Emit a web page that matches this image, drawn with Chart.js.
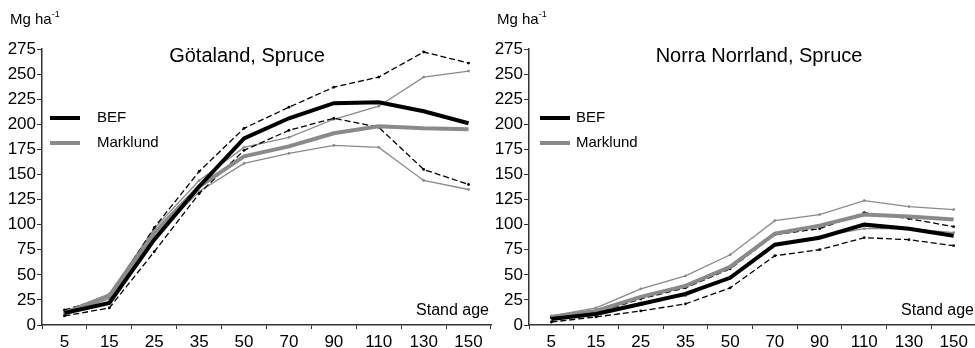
<!DOCTYPE html>
<html>
<head>
<meta charset="utf-8">
<script src="https://cdn.jsdelivr.net/npm/chart.js@4"></script>
<style>
  html, body { margin: 0; padding: 0; background: #fff; overflow: hidden; }
  #wrap { position: relative; width: 975px; height: 348px; }
  canvas { position: absolute; top: 0; }
  #leftChart { left: 0; }
  #rightChart { left: 490px; }
</style>
</head>
<body>
<div id="wrap">
  <canvas id="leftChart" width="495" height="348"></canvas>
  <canvas id="rightChart" width="490" height="348"></canvas>
</div>
<script>
// stand age classes (x axis)
const standAges = ['5', '15', '25', '35', '50', '70', '90', '110', '130', '150'];

// Götaland, Spruce (Mg ha-1)
const gotBef = [12, 22, 85, 138, 186, 206, 221, 222, 213, 201];
const gotMarklund = [12, 29, 92, 138, 168, 178, 191, 198, 196, 195];
const gotBefHigh = [15, 28, 97, 153, 196, 217, 237, 247, 272, 261];
const gotBefLow = [9, 17, 73, 131, 174, 194, 206, 197, 155, 140];
const gotMarklundHigh = [13, 31, 96, 144, 177, 187, 205, 218, 247, 253];
const gotMarklundLow = [11, 26, 88, 133, 161, 171, 179, 177, 144, 135];

// Norra Norrland, Spruce (Mg ha-1)
const nnBef = [6, 11, 21, 31, 47, 80, 87, 100, 96, 89];
const nnMarklund = [8, 14, 28, 39, 58, 91, 99, 110, 108, 105];
const nnBefHigh = [7, 12, 26, 37, 56, 90, 96, 112, 106, 98];
const nnBefLow = [3, 8, 14, 21, 37, 69, 75, 87, 85, 79];
const nnMarklundHigh = [9, 17, 36, 49, 70, 104, 110, 124, 118, 115];
const nnMarklundLow = [7, 12, 22, 29, 48, 80, 88, 96, 96, 92];

const yTicks = { min: 0, max: 275, step: 25 };

const AXIS = '#333';
const GREY = '#8a8a8a';
const FONT = '"Liberation Sans", Arial, sans-serif';

// draws the unit, title, legend and "Stand age" text
const textPlugin = {
  id: 'panelText',
  afterDraw(chart, args, opts) {
    const ctx = chart.ctx;
    ctx.save();
    ctx.fillStyle = '#000';
    ctx.textBaseline = 'middle';

    // unit label
    ctx.font = '15px ' + FONT;
    ctx.textAlign = 'left';
    ctx.fillText('Mg ha', opts.unitX, 20);
    const w = ctx.measureText('Mg ha').width;
    ctx.font = '9px ' + FONT;
    ctx.fillText('-1', opts.unitX + w, 15);

    // title
    ctx.font = '20px ' + FONT;
    ctx.textAlign = 'center';
    ctx.fillText(opts.title, opts.titleX, 56);

    // legend
    const items = [['BEF', '#000', 118], ['Marklund', GREY, 143]];
    items.forEach(([label, color, y]) => {
      ctx.strokeStyle = color;
      ctx.lineWidth = 4;
      ctx.beginPath();
      ctx.moveTo(50, y);
      ctx.lineTo(80, y);
      ctx.stroke();
      ctx.font = '15px ' + FONT;
      ctx.textAlign = 'left';
      ctx.fillText(label, opts.legendTextX, y);
    });

    // axis caption
    ctx.font = '16px ' + FONT;
    ctx.textAlign = 'right';
    ctx.fillText('Stand age', opts.ageX, 311);
    ctx.restore();
  }
};

function buildDatasets(bef, marklund, befHigh, befLow, mHigh, mLow) {
  // first dataset is drawn on top
  return [
    { label: 'BEF', data: bef, borderColor: '#000', borderWidth: 4, pointRadius: 0 },
    { label: 'Marklund', data: marklund, borderColor: GREY, borderWidth: 4, pointRadius: 0 },
    { label: 'BEF high', data: befHigh, borderColor: '#000', borderWidth: 1.3, borderDash: [6, 3],
      pointRadius: 1.4, pointBackgroundColor: '#000', pointBorderWidth: 0 },
    { label: 'BEF low', data: befLow, borderColor: '#000', borderWidth: 1.3, borderDash: [6, 3],
      pointRadius: 1.4, pointBackgroundColor: '#000', pointBorderWidth: 0 },
    { label: 'Marklund high', data: mHigh, borderColor: GREY, borderWidth: 1.3,
      pointRadius: 1.4, pointBackgroundColor: GREY, pointBorderWidth: 0 },
    { label: 'Marklund low', data: mLow, borderColor: GREY, borderWidth: 1.3,
      pointRadius: 1.4, pointBackgroundColor: GREY, pointBorderWidth: 0 }
  ];
}

function makeChart(id, datasets, axisWidth, padRight, text) {
  const ctx = document.getElementById(id).getContext('2d');
  return new Chart(ctx, {
    type: 'line',
    data: { labels: standAges, datasets: datasets },
    plugins: [textPlugin],
    options: {
      responsive: false,
      animation: false,
      devicePixelRatio: 1,
      layout: { padding: { top: 49, right: padRight, bottom: 0, left: 0 } },
      elements: { line: { tension: 0, fill: false } },
      plugins: {
        legend: { display: false },
        tooltip: { enabled: false },
        panelText: text
      },
      scales: {
        x: {
          type: 'category',
          offset: true,
          grid: { offset: true, drawOnChartArea: false, drawTicks: true, tickLength: 4, color: AXIS, lineWidth: 1 },
          border: { display: true, color: AXIS, width: 1.5 },
          ticks: { color: '#000', font: { family: FONT, size: 17 }, padding: 3, maxRotation: 0, autoSkip: false },
          afterFit(scale) { scale.height = 23; }
        },
        y: {
          min: yTicks.min,
          max: yTicks.max,
          grid: { drawOnChartArea: false, drawTicks: true, tickLength: 5, color: AXIS, lineWidth: 1 },
          border: { display: true, color: AXIS, width: 1.5 },
          ticks: { stepSize: yTicks.step, color: '#000', font: { family: FONT, size: 17 }, padding: 1 },
          afterFit(scale) { scale.width = axisWidth; }
        }
      }
    }
  });
}

makeChart('leftChart',
  buildDatasets(gotBef, gotMarklund, gotBefHigh, gotBefLow, gotMarklundHigh, gotMarklundLow),
  42, 3,
  { title: 'Götaland, Spruce', titleX: 247, unitX: 10, legendTextX: 97, ageX: 489 });

makeChart('rightChart',
  buildDatasets(nnBef, nnMarklund, nnBefHigh, nnBefLow, nnMarklundHigh, nnMarklundLow),
  39, 2,
  { title: 'Norra Norrland, Spruce', titleX: 269, unitX: 7, legendTextX: 86, ageX: 484 });
</script>
</body>
</html>
